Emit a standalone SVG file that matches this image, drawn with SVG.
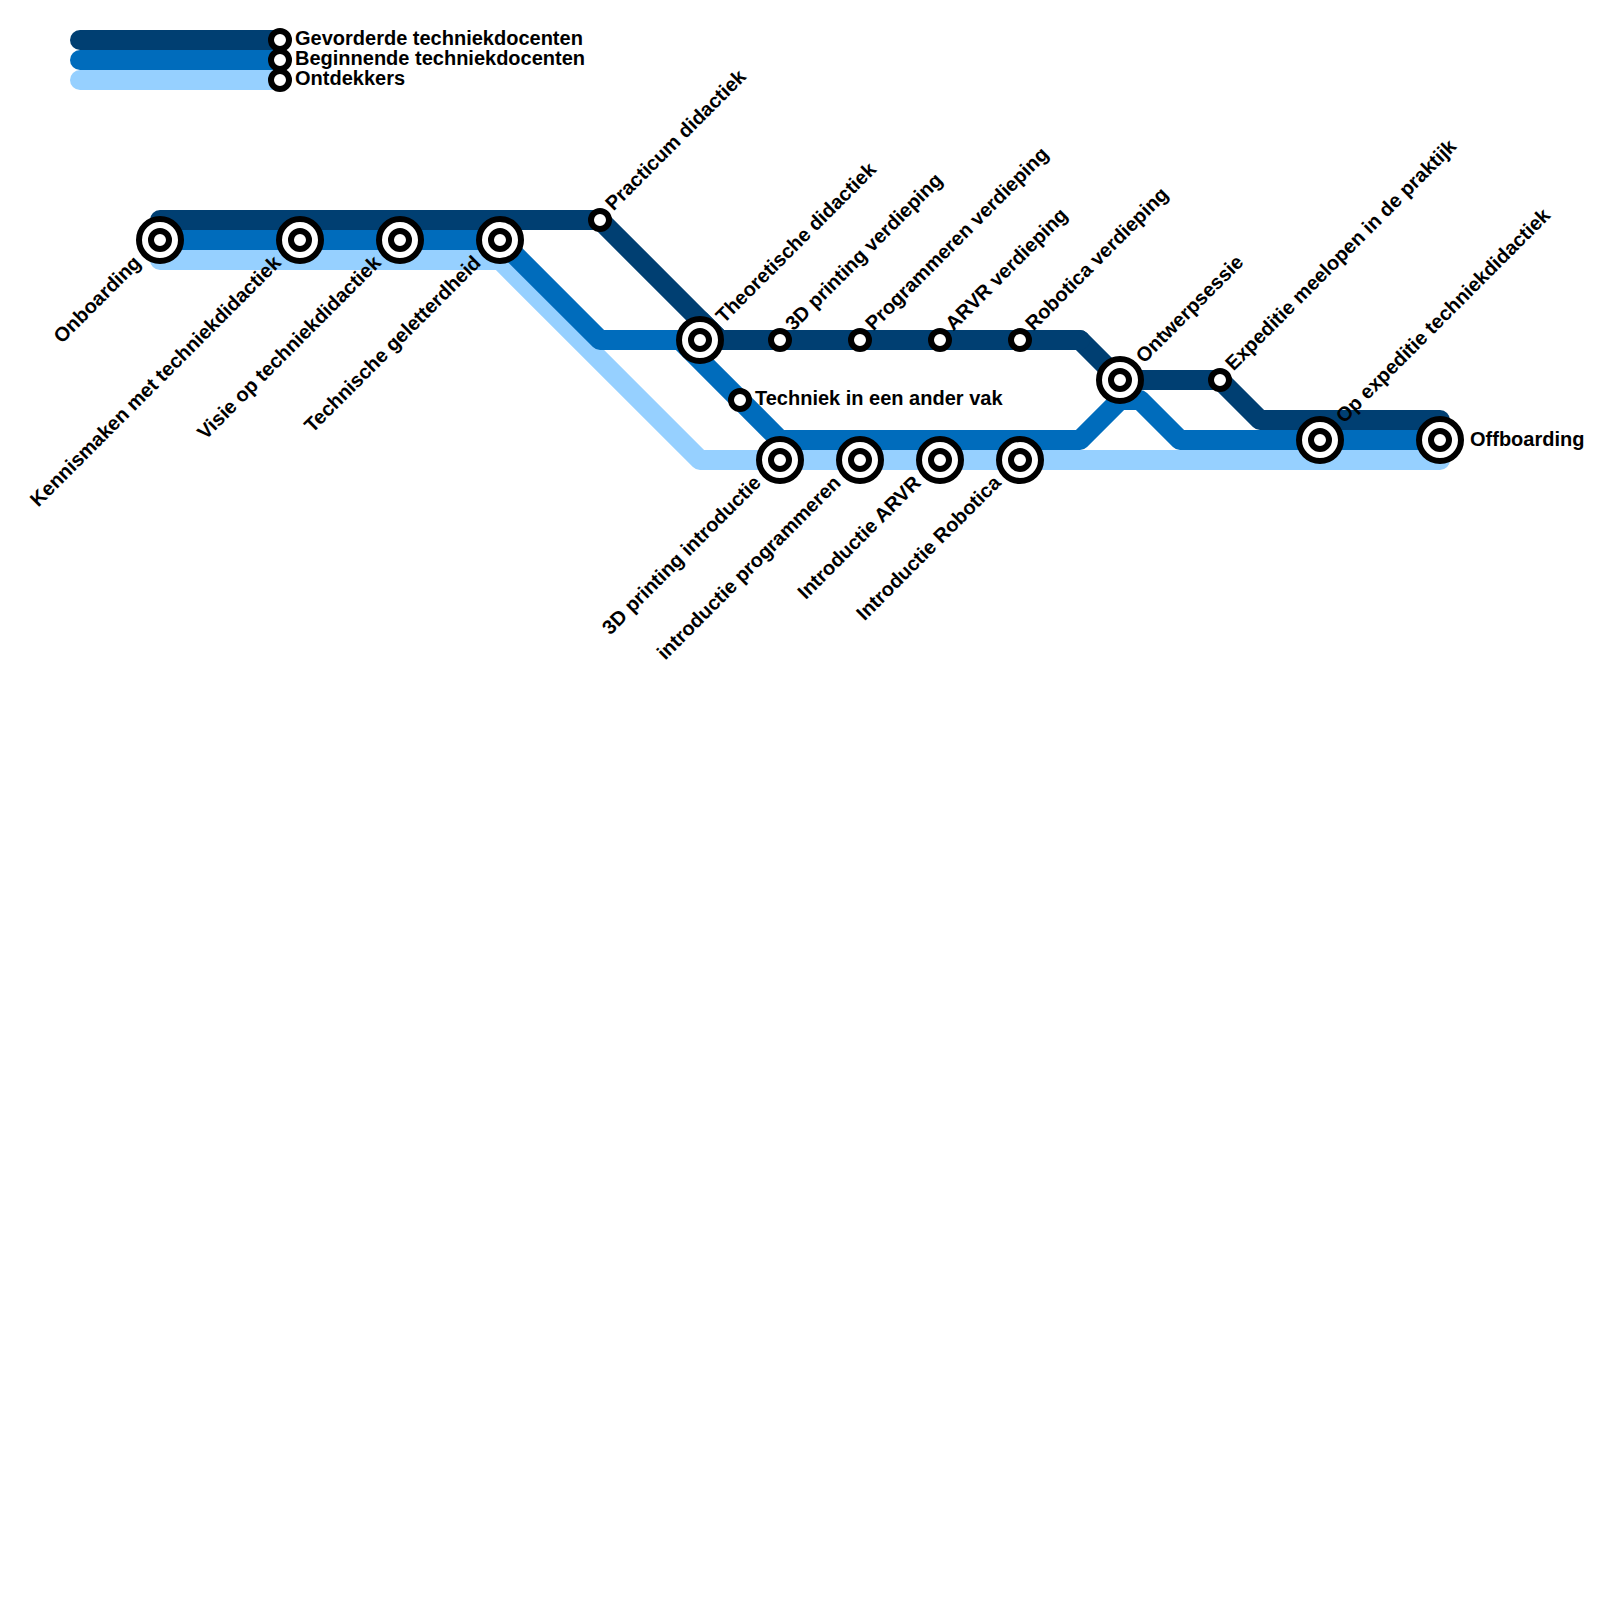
<svg xmlns="http://www.w3.org/2000/svg" width="1600" height="1600" viewBox="0 0 1600 1600">
<style>
.l{fill:none;stroke-width:20;stroke-linecap:round;stroke-linejoin:round}
.a{stroke:#003f72}.b{stroke:#006cbc}.c{stroke:#96d0ff}
.o{fill:#fff;stroke:#000;stroke-width:6}
text{font-family:"Liberation Sans",Arial,sans-serif;font-weight:bold;font-size:20px;fill:#000}
.e{text-anchor:end}
</style>
<defs>
<g id="big"><circle class="o" r="21"/><circle class="o" r="9"/></g>
<circle id="small" class="o" r="9"/>
</defs>
<rect width="1600" height="1600" fill="#fff"/>
<g id="connectors">
<path class="l c" d="M80 80H280"/>
<path class="l b" d="M80 60H280"/>
<path class="l a" d="M80 40H280"/>
<path class="l c" d="M160 260H500L700 460H1440"/>
<path class="l a" d="M160 220H600L720 340H1080L1120 380H1220L1260 420H1440"/>
<path class="l b" d="M160 240H500L600 340H680L780 440H1080L1120 400H1140L1180 440H1440"/>
<path class="l a" d="M700 320L720 340H1080"/>
</g>
<g id="legend-a"><use href="#small" x="280" y="40"/><text x="295" y="45">Gevorderde techniekdocenten</text></g>
<g id="legend-b"><use href="#small" x="280" y="60"/><text x="295" y="65">Beginnende techniekdocenten</text></g>
<g id="legend-c"><use href="#small" x="280" y="80"/><text x="295" y="85">Ontdekkers</text></g>
<g id="n-onboarding"><use href="#big" x="160" y="240"/><text class="e" transform="translate(142 264) rotate(-45)">Onboarding</text></g>
<g id="n-kennismaken"><use href="#big" x="300" y="240"/><text class="e" transform="translate(282 264) rotate(-45)">Kennismaken met techniekdidactiek</text></g>
<g id="n-visie"><use href="#big" x="400" y="240"/><text class="e" transform="translate(382 264) rotate(-45)">Visie op techniekdidactiek</text></g>
<g id="n-geletterdheid"><use href="#big" x="500" y="240"/><text class="e" transform="translate(482 264) rotate(-45)">Technische geletterdheid</text></g>
<g id="n-practicum"><use href="#small" x="600" y="220"/><text transform="translate(613.5 211.5) rotate(-45)">Practicum didactiek</text></g>
<g id="n-theoretisch"><use href="#big" x="700" y="340"/><text transform="translate(724 324) rotate(-45)">Theoretische didactiek</text></g>
<g id="n-3dv"><use href="#small" x="780" y="340"/><text transform="translate(793.5 331.5) rotate(-45)">3D printing verdieping</text></g>
<g id="n-progv"><use href="#small" x="860" y="340"/><text transform="translate(873.5 331.5) rotate(-45)">Programmeren verdieping</text></g>
<g id="n-arvrv"><use href="#small" x="940" y="340"/><text transform="translate(953.5 331.5) rotate(-45)">ARVR verdieping</text></g>
<g id="n-robv"><use href="#small" x="1020" y="340"/><text transform="translate(1033.5 331.5) rotate(-45)">Robotica verdieping</text></g>
<g id="n-techniek"><use href="#small" x="740" y="400"/><text x="755" y="405">Techniek in een ander vak</text></g>
<g id="n-3di"><use href="#big" x="780" y="460"/><text class="e" transform="translate(762 484) rotate(-45)">3D printing introductie</text></g>
<g id="n-progi"><use href="#big" x="860" y="460"/><text class="e" transform="translate(842 484) rotate(-45)">introductie programmeren</text></g>
<g id="n-arvri"><use href="#big" x="940" y="460"/><text class="e" transform="translate(922 484) rotate(-45)">Introductie ARVR</text></g>
<g id="n-robi"><use href="#big" x="1020" y="460"/><text class="e" transform="translate(1002 484) rotate(-45)">Introductie Robotica</text></g>
<g id="n-ontwerp"><use href="#big" x="1120" y="380"/><text transform="translate(1144 364) rotate(-45)">Ontwerpsessie</text></g>
<g id="n-meelopen"><use href="#small" x="1220" y="380"/><text transform="translate(1233.5 371.5) rotate(-45)">Expeditie meelopen in de praktijk</text></g>
<g id="n-opexp"><use href="#big" x="1320" y="440"/><text transform="translate(1344 424) rotate(-45)">Op expeditie techniekdidactiek</text></g>
<g id="n-offboarding"><use href="#big" x="1440" y="440"/><text x="1470" y="445.5">Offboarding</text></g>
</svg>
